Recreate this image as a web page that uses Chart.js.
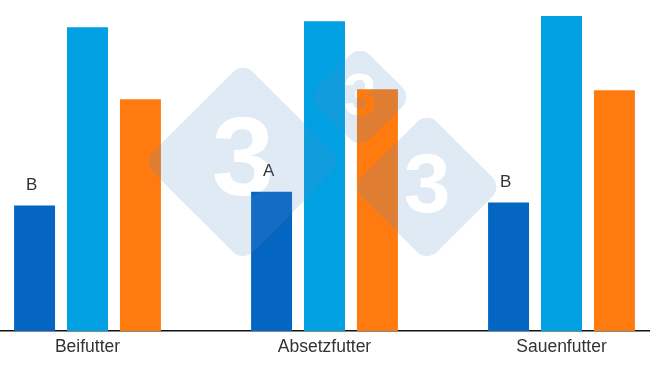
<!DOCTYPE html>
<html>
<head>
<meta charset="utf-8">
<script src="https://cdn.jsdelivr.net/npm/chart.js@4.4.1/dist/chart.umd.min.js"></script>
<style>
  html, body { margin: 0; padding: 0; background: #fff; }
  #wrap { position: relative; width: 650px; height: 366px; overflow: hidden; }
  #box { position: absolute; left: -31px; top: 0; width: 711px; height: 366px; }
</style>
</head>
<body>
<div id="wrap"><div id="box"><canvas id="grafico"></canvas></div></div>
<script>
// Daten (Balkenhöhen relativ, 0–100)
const kategorien = ["Beifutter", "Absetzfutter", "Sauenfutter"];
const serie1 = [37.9, 42.1, 38.8];
const serie2 = [91.8, 93.6, 95.2];
const serie3 = [70.0, 73.0, 72.7];
const buchstaben = ["B", "A", "B"];

const FARBEN = ["#0565C3", "#00A0E3", "#FF7B0F"];
const SHIFT = 31; // canvas is shifted left inside the visible area

// Buchstaben über den dunkelblauen Balken
const buchstabenPlugin = {
  id: "buchstaben",
  afterDatasetsDraw(chart) {
    const ctx = chart.ctx;
    const meta = chart.getDatasetMeta(0);
    ctx.save();
    ctx.font = "17px 'Liberation Sans', Arial, sans-serif";
    ctx.fillStyle = "#333";
    ctx.textAlign = "center";
    ctx.textBaseline = "middle";
    meta.data.forEach((bar, i) => {
      ctx.fillText(buchstaben[i], bar.x - 3, bar.y - 20);
    });
    ctx.restore();
  }
};

// Wasserzeichen (Logo) halbtransparent über dem Diagramm
const wasserzeichen = {
  id: "wasserzeichen",
  afterDraw(chart) {
    const ctx = chart.ctx;
    const w = chart.width, h = chart.height;
    const off = document.createElement("canvas");
    off.width = w; off.height = h;
    const o = off.getContext("2d");
    const rauten = [
      { x: 243, y: 162, r: 100, s: 112 },
      { x: 360, y: 97, r: 52, s: 60 },
      { x: 427, y: 187, r: 75, s: 84 }
    ];
    o.fillStyle = "rgb(91,143,199)";
    rauten.forEach(d => {
      const side = d.r * Math.SQRT2;
      o.save();
      o.translate(d.x + SHIFT, d.y);
      o.rotate(Math.PI / 4);
      o.beginPath();
      o.roundRect(-side / 2, -side / 2, side, side, 14);
      o.fill();
      o.restore();
    });
    o.globalCompositeOperation = "destination-out";
    o.fillStyle = "#000";
    o.textAlign = "center";
    o.textBaseline = "middle";
    rauten.forEach(d => {
      o.font = "bold " + d.s + "px 'Liberation Sans', Arial, sans-serif";
      o.fillText("3", d.x + SHIFT, d.y + d.s * 0.02);
    });
    ctx.save();
    ctx.globalAlpha = 0.19;
    ctx.drawImage(off, 0, 0);
    ctx.restore();
  }
};

new Chart(document.getElementById("grafico"), {
  type: "bar",
  data: {
    labels: kategorien,
    datasets: [
      { data: serie1, backgroundColor: FARBEN[0] },
      { data: serie2, backgroundColor: FARBEN[1] },
      { data: serie3, backgroundColor: FARBEN[2] }
    ]
  },
  options: {
    responsive: true,
    maintainAspectRatio: false,
    animation: false,
    categoryPercentage: 0.67,
    barPercentage: 0.774,
    layout: { padding: { top: 0, left: 0, right: 0, bottom: 2 } },
    plugins: { legend: { display: false }, tooltip: { enabled: false } },
    scales: {
      x: {
        grid: { display: false, drawTicks: false },
        border: { display: true, color: "#111", width: 1.5 },
        ticks: {
          color: "#333",
          padding: 6,
          font: { family: "'Liberation Sans', Arial, sans-serif", size: 17.5 }
        }
      },
      y: {
        display: false,
        min: 0,
        max: 100
      }
    }
  },
  plugins: [buchstabenPlugin, wasserzeichen]
});
</script>
</body>
</html>
